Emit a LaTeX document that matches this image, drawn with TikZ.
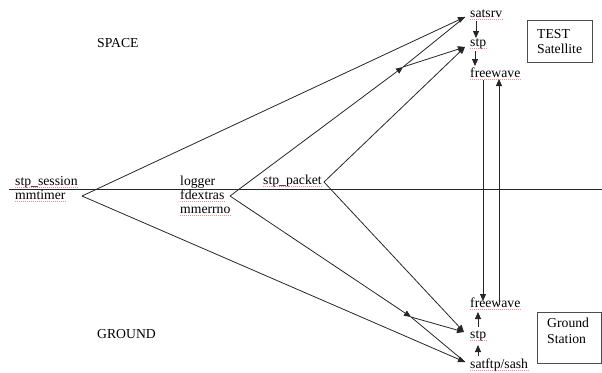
\documentclass[tikz,border=0pt]{standalone}
\usepackage{fontspec}
\setmainfont{Liberation Serif}
\usetikzlibrary{arrows.meta}
\begin{document}
\begin{tikzpicture}[x=1pt,y=-1pt,
  every node/.style={font=\fontsize{13.7}{15.5}\selectfont},
  lbl/.style={anchor=base west,inner sep=0pt},
  wire/.style={line width=0.8pt,draw=black!85},
  arr/.style={wire,-{Triangle[length=7pt,width=6pt]}},
  spell/.style={draw=red!45,line width=0.6pt,dash pattern=on 1pt off 1pt},
  tag/.style={draw=black!70,line width=0.6pt}]
\useasboundingbox (0,0) rectangle (602,372);

% dividing line between space and ground
\coordinate (hl) at (9,189);
\coordinate (hr) at (602,189);
\draw[wire] (hl) -- (hr);

% region labels
\node[lbl] (space) at (97,47) {SPACE};
\node[lbl] (ground) at (97,338) {GROUND};

% left-hand modules
\node[lbl] (sess) at (15,185) {stp\_session};
\node[lbl] (mmt) at (15,199) {mmtimer};
\node[lbl] (logger) at (180,185) {logger};
\node[lbl] (fdx) at (180,199) {fdextras};
\node[lbl] (mme) at (180,213) {mmerrno};
\node[lbl] (pkt) at (263,184) {stp\_packet};

% satellite side
\node[lbl] (satsrv) at (470,17) {satsrv};
\node[lbl] (stpS) at (470,46) {stp};
\node[lbl] (fwS) at (470,77) {freewave};

% ground side
\node[lbl] (fwG) at (470,307) {freewave};
\node[lbl] (stpG) at (470,338) {stp};
\node[lbl] (sash) at (470,368) {satftp/sash};

% boxed captions
\draw[tag] (527,20) rectangle (592,62);
\node[lbl] (test) at (537,38) {TEST};
\node[lbl] (sat) at (537,53) {Satellite};
\draw[tag] (537,312) rectangle (601,363);
\node[lbl] (gnd) at (547,327) {Ground};
\node[lbl] (stn) at (547,343) {Station};

% spell-check underlines
\foreach \n in {sess,mmt,fdx,mme,pkt,satsrv,stpS,fwS,fwG,stpG,sash}
  \draw[spell] ([yshift=-2.5pt]\n.base west) -- ([yshift=-2.5pt]\n.base east);

% fan-out points
\coordinate (a1) at (82,196);
\coordinate (a2) at (230,196);
\coordinate (a3) at (324,182);
\coordinate (mS) at (403,67);
\coordinate (mG) at (411,317);

% arrow entry points
\coordinate (satsrvIn) at (465,17);
\coordinate (stpSIn) at (465,47);
\coordinate (stpGIn) at (464,332);
\coordinate (sashIn) at (465,362);

% upward fan
\draw[arr] (a1) -- (satsrvIn);
\draw[arr] (a2) -- (mS);
\draw[wire] (mS) -- (satsrvIn);
\draw[arr] (mS) -- (stpSIn);
\draw[arr] (a3) -- (stpSIn);

% downward fan
\draw[arr] (a1) -- (sashIn);
\draw[arr] (a2) -- (mG);
\draw[wire] (mG) -- (sashIn);
\draw[arr] (mG) -- (stpGIn);
\draw[arr] (a3) -- (stpGIn);

% satellite stack
\draw[arr] (476,21) -- (476,38);
\draw[arr] (475,51) -- (475,66);

% radio link
\draw[arr] (483,80) -- (483,301);
\draw[arr] (499,305) -- (499,79);

% ground stack
\draw[arr] (478,356) -- (478,345);
\draw[arr] (478,327) -- (478,312);
\end{tikzpicture}
\end{document}
